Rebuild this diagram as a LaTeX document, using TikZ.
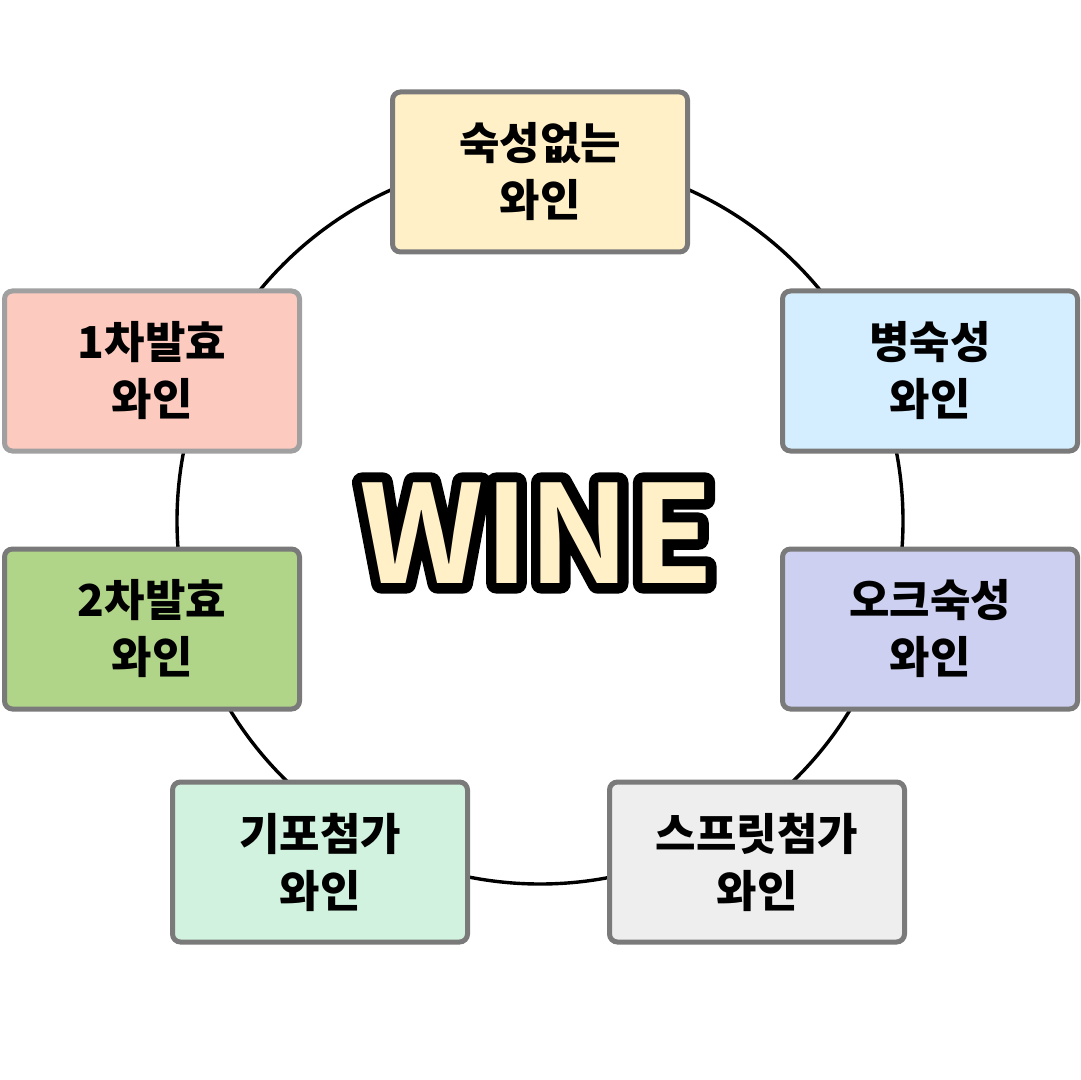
\documentclass[tikz,border=0pt]{standalone}
\usepackage{fontspec}
\setmainfont{Noto Sans CJK KR}
\newfontfamily\krfont{Noto Sans CJK KR}
\newfontfamily\wineoutline[FakeBold=15]{Noto Sans CJK KR Bold}
\newfontfamily\winefill{Noto Sans CJK KR Bold}
\definecolor{bordc}{HTML}{7A7A7A}
\definecolor{bordl}{HTML}{A0A0A0}
\definecolor{cYel}{HTML}{FFF0C8}
\definecolor{cBlue}{HTML}{D4EEFF}
\definecolor{cLav}{HTML}{CDD0F0}
\definecolor{cGray}{HTML}{EEEEEE}
\definecolor{cMint}{HTML}{D0F2DE}
\definecolor{cGreen}{HTML}{B0D488}
\definecolor{cSalmon}{HTML}{FCCABE}
\tikzset{
  winebox/.style={draw=bordc, line width=2.5pt, rounded corners=4pt,
    minimum width=147.5pt, minimum height=80pt, inner sep=0pt,
    align=center, font=\krfont\bfseries\fontsize{22}{28.5}\selectfont},
  ring/.style={line width=1.7pt, black},
}
\begin{document}
\begin{tikzpicture}[x=0.5pt, y=-0.5pt]
\useasboundingbox (0,0) rectangle (1080,1080);
\fill[white] (0,0) rectangle (1080,1080);
\coordinate (c) at (540,521);
\draw[ring] (c) circle[radius=181.5pt];
\node[winebox, fill=cYel] (n1) at (540,172) {숙성없는\\와인};
\node[winebox, fill=cBlue] (n2) at (930,371) {병숙성\\와인};
\node[winebox, fill=cLav] (n3) at (930,629) {오크숙성\\와인};
\node[winebox, fill=cGray] (n4) at (757,862) {스프릿첨가\\와인};
\node[winebox, fill=cMint] (n5) at (320,862) {기포첨가\\와인};
\node[winebox, fill=cGreen] (n6) at (152,629) {2차발효\\와인};
\node[winebox, fill=cSalmon, draw=bordl] (n7) at (152,371) {1차발효\\와인};
\node[text=black, font=\wineoutline\fontsize{68}{70}\selectfont, inner sep=0pt] (wineo) at (537,533) {\special{pdf:code 1 j}WINE};
\node[text=cYel, font=\winefill\fontsize{68}{70}\selectfont, inner sep=0pt] (wine) at (wineo.center) {WINE};
\end{tikzpicture}
\end{document}
